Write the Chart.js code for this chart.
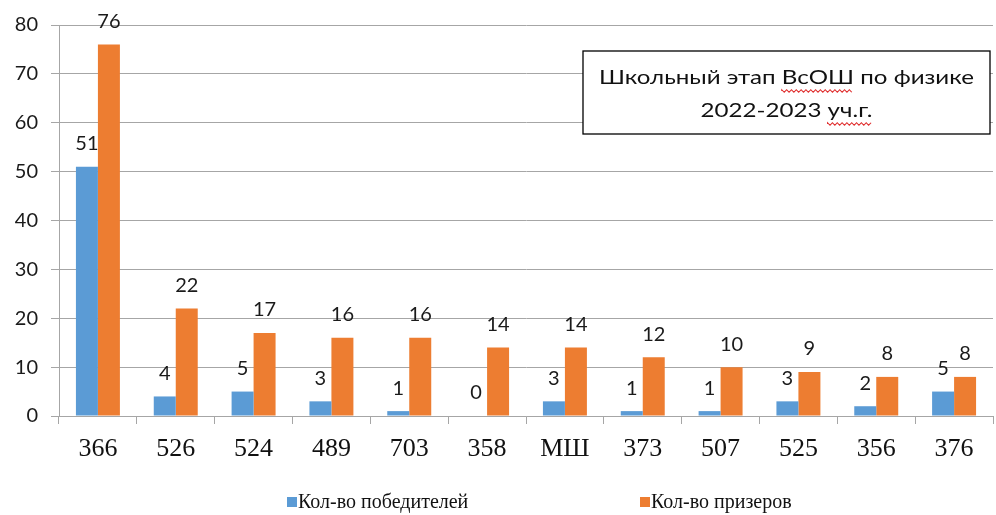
<!DOCTYPE html>
<html>
<head>
<meta charset="utf-8">
<script src="https://cdn.jsdelivr.net/npm/chart.js@4.4.1/dist/chart.umd.min.js"></script>
<style>
  html,body{margin:0;padding:0;background:#fff;}
  #wrap{width:996px;height:515px;}
</style>
</head>
<body>
<div id="wrap"><canvas id="chart" width="996" height="515"></canvas></div>
<script>
// ==================== Data ====================
const schools   = ["366","526","524","489","703","358","МШ","373","507","525","356","376"];
const winners   = [51, 4, 5, 3, 1, 0, 3, 1, 1, 3, 2, 5];
const prizers   = [76, 22, 17, 16, 16, 14, 14, 12, 10, 9, 8, 8];
const seriesNames = ["Кол-во победителей", "Кол-во призеров"];
const titleLines  = ["Школьный этап ВсОШ по физике", "2022-2023 уч.г."];
const yTicks = [0,10,20,30,40,50,60,70,80];

const BLUE="#5B9BD5", ORANGE="#ED7D31";
const SANS="Lato, 'Open Sans', sans-serif";
const SERIF="'Liberation Serif', 'DejaVu Serif', serif";

// ==================== Plugins ====================
// value above each bar
const valueLabels={
  id:"valueLabels",
  afterDatasetsDraw(chart){
    const ctx=chart.ctx;
    ctx.save();
    ctx.font="20px "+SANS;
    ctx.fillStyle="#1a1a1a";
    ctx.textAlign="center";
    ctx.textBaseline="middle";
    chart.data.datasets.forEach((ds,i)=>{
      chart.getDatasetMeta(i).data.forEach((bar,j)=>{
        ctx.fillText(String(ds.data[j]), bar.x, bar.y-23);
      });
    });
    ctx.restore();
  }
};

// boxed title with spell-check squiggles (as in the Word original)
function squiggle(ctx,x1,x2,y){
  ctx.beginPath();
  ctx.moveTo(x1,y);
  let up=true;
  for(let x=x1;x<=x2;x+=2){ ctx.lineTo(x, up?y-1.2:y+1.2); up=!up; }
  ctx.stroke();
}
const titleBox={
  id:"titleBox",
  afterDraw(chart){
    const ctx=chart.ctx;
    const x=583, y=51, w=407, h=83, cx=x+w/2;
    ctx.save();
    ctx.fillStyle="#fff";
    ctx.fillRect(x,y,w,h);
    ctx.strokeStyle="#000";
    ctx.lineWidth=1.3;
    ctx.strokeRect(x,y,w,h);
    ctx.font="20px "+SANS;
    // the original uses a narrow font: stretch wider to the same line length
    const sx=375/ctx.measureText(titleLines[0]).width;
    ctx.translate(cx,0);
    ctx.scale(sx,1);
    ctx.fillStyle="#111";
    ctx.textAlign="center";
    ctx.textBaseline="middle";
    ctx.fillText(titleLines[0],0,y+27);
    ctx.fillText(titleLines[1],0,y+60);
    // squiggles under "ВсОШ" and "уч.г."
    ctx.strokeStyle="#e03030";
    ctx.lineWidth=1;
    const l0=titleLines[0], s0=-ctx.measureText(l0).width/2;
    const a=l0.indexOf("ВсОШ");
    const ax=s0+ctx.measureText(l0.slice(0,a)).width;
    squiggle(ctx,ax,ax+ctx.measureText("ВсОШ").width,y+40);
    const l1=titleLines[1], s1=-ctx.measureText(l1).width/2;
    const b=l1.indexOf("уч.г.");
    const bx=s1+ctx.measureText(l1.slice(0,b)).width;
    squiggle(ctx,bx,bx+ctx.measureText("уч.г.").width,y+73);
    ctx.restore();
  }
};

// legend at bottom
const bottomLegend={
  id:"bottomLegend",
  afterDraw(chart){
    const ctx=chart.ctx;
    const starts=[287,640];
    ctx.save();
    ctx.font="20px "+SERIF;
    ctx.textBaseline="middle";
    ctx.textAlign="left";
    chart.data.datasets.forEach((ds,i)=>{
      const x=starts[i], y=502;
      ctx.fillStyle=ds.backgroundColor;
      ctx.fillRect(x,y-5,10,10);
      ctx.fillStyle="#111";
      ctx.fillText(ds.label,x+11,y+1);
    });
    ctx.restore();
  }
};

// ==================== Chart ====================
new Chart(document.getElementById("chart"),{
  type:"bar",
  data:{
    labels:schools,
    datasets:[
      {label:seriesNames[0],data:winners,backgroundColor:BLUE},
      {label:seriesNames[1],data:prizers,backgroundColor:ORANGE}
    ]
  },
  options:{
    responsive:false,
    animation:false,
    devicePixelRatio:1,
    layout:{padding:{top:23,right:3,bottom:0,left:0}},
    datasets:{bar:{categoryPercentage:0.565,barPercentage:1}},
    plugins:{legend:{display:false},tooltip:{enabled:false}},
    scales:{
      x:{
        grid:{display:true,drawOnChartArea:false,offset:true,tickLength:8,color:"#a6a6a6"},
        border:{color:"#a6a6a6"},
        ticks:{font:{family:SERIF,size:26},color:"#111",padding:10},
        afterFit(s){ s.height=99; }
      },
      y:{
        min:0,max:80,
        afterBuildTicks(s){ s.ticks=yTicks.map(v=>({value:v})); },
        grid:{color:"#a6a6a6",tickLength:8},
        border:{color:"#a6a6a6"},
        ticks:{font:{family:SANS,size:20},color:"#1a1a1a",padding:13},
        afterFit(s){ s.width=59; }
      }
    }
  },
  plugins:[valueLabels,titleBox,bottomLegend]
});
</script>
</body>
</html>
